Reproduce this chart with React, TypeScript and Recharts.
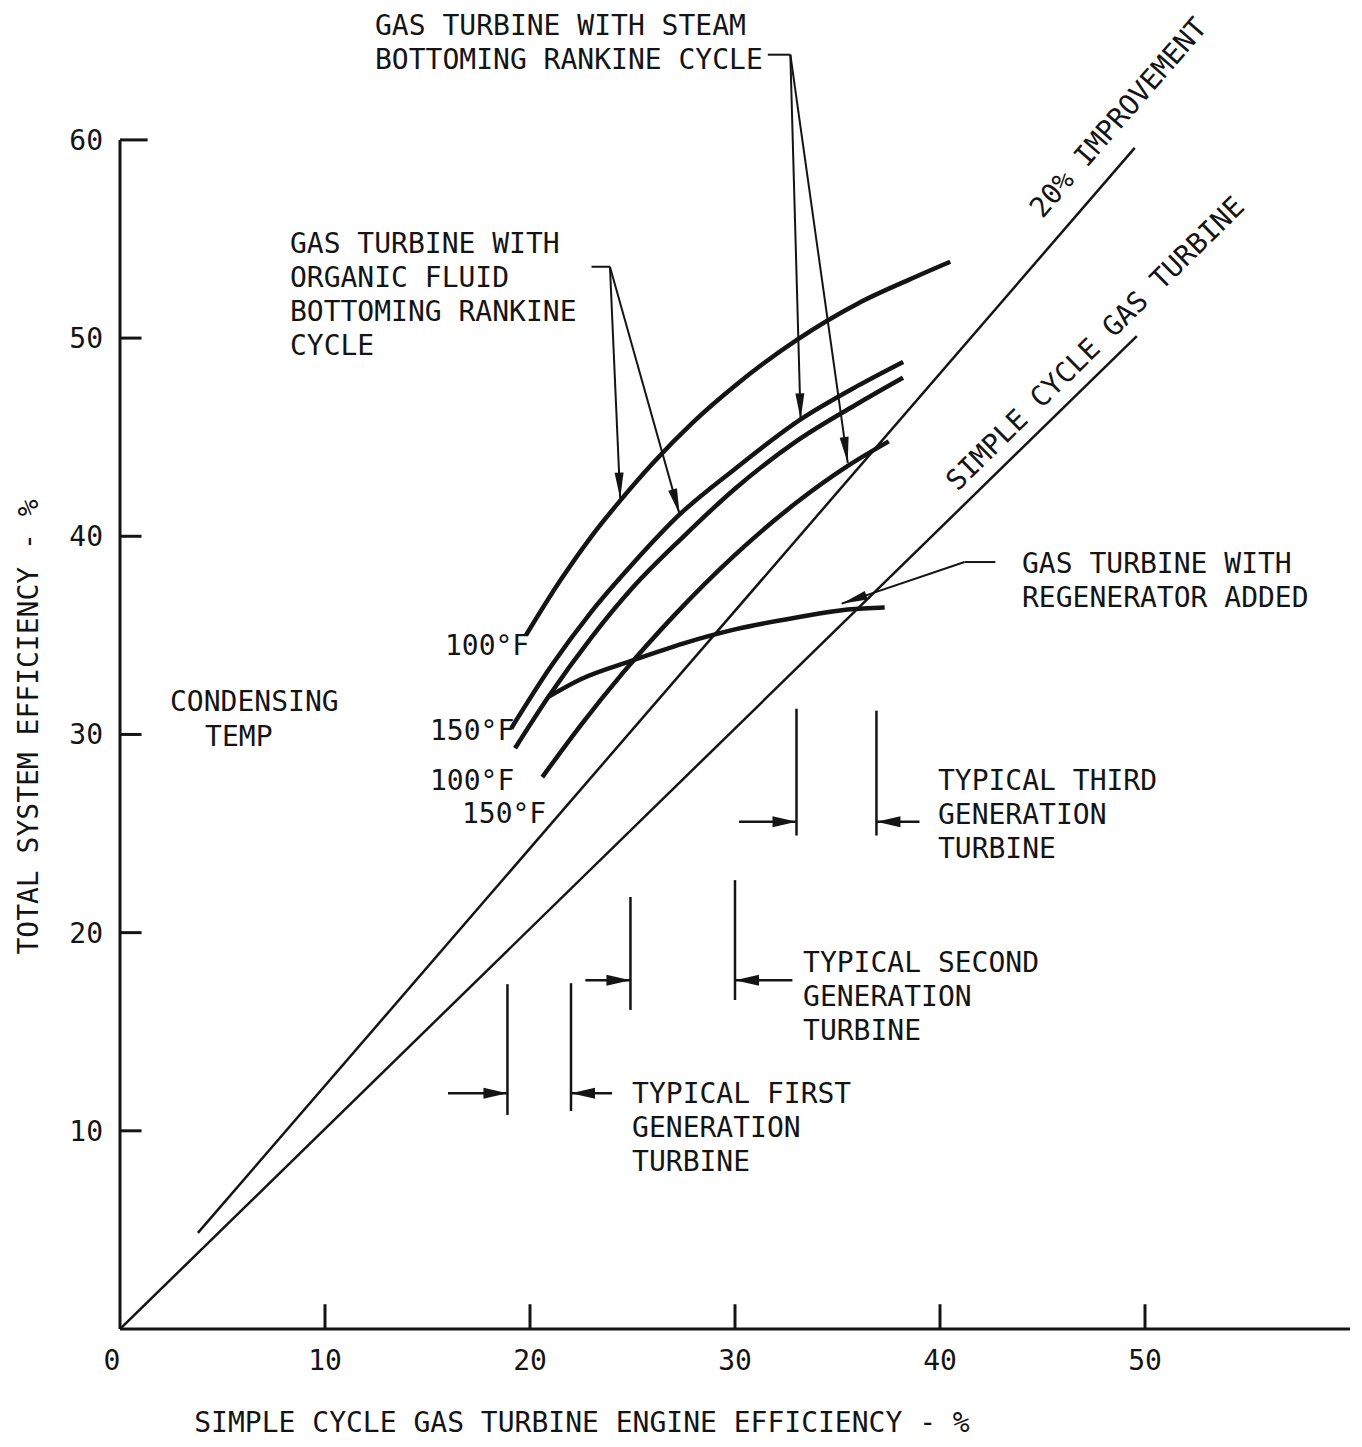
import React from 'react';
import { ComposedChart, Line, XAxis, YAxis, ReferenceLine, ReferenceDot, Label } from 'recharts';

const FONT = '"DejaVu Sans Mono", "Liberation Mono", monospace';
const INK = '#141414';

const xTicks = [0, 10, 20, 30, 40, 50];
const yTicks = [10, 20, 30, 40, 50, 60];

const simpleCycle = [{ x: 0, y: 0 }, { x: 49.6, y: 50.1 }];
const improvement20 = [{ x: 3.8, y: 4.85 }, { x: 49.5, y: 59.6 }];

const steam100 = [
  { x: 19.8, y: 35.0 }, { x: 21.5, y: 37.8 }, { x: 23, y: 40.0 }, { x: 24.4, y: 41.8 },
  { x: 26, y: 43.7 }, { x: 28, y: 45.8 }, { x: 30, y: 47.6 }, { x: 33, y: 49.9 },
  { x: 36, y: 51.75 }, { x: 38.5, y: 52.95 }, { x: 40.5, y: 53.85 },
];
const steam150 = [
  { x: 19.08, y: 30.3 }, { x: 21, y: 33.4 }, { x: 23, y: 36.2 }, { x: 25, y: 38.6 },
  { x: 27.3, y: 41.1 }, { x: 30, y: 43.4 }, { x: 33.2, y: 45.9 }, { x: 36, y: 47.6 },
  { x: 38.2, y: 48.8 },
];
const organic100 = [
  { x: 19.27, y: 29.3 }, { x: 20.9, y: 31.9 }, { x: 23, y: 34.9 }, { x: 25, y: 37.4 },
  { x: 27.5, y: 40.0 }, { x: 30, y: 42.4 }, { x: 33, y: 44.8 }, { x: 36, y: 46.7 },
  { x: 38.2, y: 48.0 },
];
const organic150 = [
  { x: 20.6, y: 27.85 }, { x: 22.5, y: 30.5 }, { x: 24.5, y: 33.07 }, { x: 27, y: 35.97 },
  { x: 30, y: 39.06 }, { x: 33, y: 41.7 }, { x: 35.5, y: 43.55 }, { x: 37.5, y: 44.79 },
];
const regenerator = [
  { x: 20.9, y: 31.9 }, { x: 22.5, y: 32.8 }, { x: 24.9, y: 33.7 }, { x: 27.5, y: 34.6 },
  { x: 30, y: 35.3 }, { x: 33, y: 35.9 }, { x: 35.5, y: 36.3 }, { x: 37.3, y: 36.4 },
];

// generation marker bars: [x, yLow, yHigh]
const generationBars = [
  [18.9, 10.8, 17.4], [22.0, 11.0, 17.45],
  [24.9, 16.1, 21.8], [30.0, 16.6, 22.65],
  [33.0, 24.9, 31.3], [36.9, 24.9, 31.2],
];
// horizontal pointer arrows: [xFrom, xTo, y]
const generationArrows = [
  [16.0, 18.9, 11.9], [24.0, 22.0, 11.9],
  [22.7, 24.9, 17.6], [32.8, 30.0, 17.6],
  [30.2, 33.0, 25.6], [39.0, 36.9, 25.6],
];

// leader lines (plain) and leader arrows
const leaderStubs = [
  [[23.0, 53.6], [23.9, 53.6]],
  [[31.6, 64.3], [32.7, 64.3]],
  [[42.7, 38.7], [41.2, 38.7]],
];
const leaderArrows = [
  [[23.9, 53.6], [24.4, 41.9]],
  [[23.9, 53.6], [27.3, 41.1]],
  [[32.7, 64.3], [33.2, 45.9]],
  [[32.7, 64.3], [35.5, 43.7]],
  [[41.2, 38.7], [35.2, 36.6]],
];

const annotations = [
  { x: 12.44, y: 65.29, angle: 0, lines: ['GAS TURBINE WITH STEAM', 'BOTTOMING RANKINE CYCLE'] },
  { x: 8.29, y: 54.29, angle: 0, lines: ['GAS TURBINE WITH', 'ORGANIC FLUID', 'BOTTOMING RANKINE', 'CYCLE'] },
  { x: 44.0, y: 38.14, angle: 0, lines: ['GAS TURBINE WITH', 'REGENERATOR ADDED'] },
  { x: 2.44, y: 31.18, angle: 0, lines: ['CONDENSING'] },
  { x: 4.15, y: 29.41, angle: 0, lines: ['TEMP'] },
  { x: 15.85, y: 34.0, angle: 0, lines: ['100°F'] },
  { x: 15.12, y: 29.72, angle: 0, lines: ['150°F'] },
  { x: 15.12, y: 27.19, angle: 0, lines: ['100°F'] },
  { x: 16.68, y: 25.53, angle: 0, lines: ['150°F'] },
  { x: 39.9, y: 27.19, angle: 0, lines: ['TYPICAL THIRD', 'GENERATION', 'TURBINE'] },
  { x: 33.32, y: 18.01, angle: 0, lines: ['TYPICAL SECOND', 'GENERATION', 'TURBINE'] },
  { x: 24.98, y: 11.4, angle: 0, lines: ['TYPICAL FIRST', 'GENERATION', 'TURBINE'] },
  { x: 45.0, y: 56.0, angle: -49, lines: ['20% IMPROVEMENT'] },
  { x: 40.85, y: 42.23, angle: -44.5, lines: ['SIMPLE CYCLE GAS TURBINE'] },
];

const arrowShape = (headLen: number, headW: number, width: number) => (props: any) => {
  const { x1, y1, x2, y2 } = props;
  const dx = x2 - x1;
  const dy = y2 - y1;
  const len = Math.hypot(dx, dy) || 1;
  const ux = dx / len;
  const uy = dy / len;
  const bx = x2 - ux * headLen;
  const by = y2 - uy * headLen;
  const px = -uy * headW;
  const py = ux * headW;
  return (
    <g>
      <line x1={x1} y1={y1} x2={x2} y2={y2} stroke={INK} strokeWidth={width} />
      <polygon points={`${x2},${y2} ${bx + px},${by + py} ${bx - px},${by - py}`} fill={INK} />
    </g>
  );
};

const textShape = (lines: string[], angle: number) => (p: any) => (
  <text
    x={p.cx}
    y={p.cy}
    fontFamily={FONT}
    fontSize={28}
    fill={INK}
    transform={angle ? `rotate(${angle} ${p.cx} ${p.cy})` : undefined}
  >
    {lines.map((l, i) => (
      <tspan key={i} x={p.cx} dy={i === 0 ? 0 : 34}>{l}</tspan>
    ))}
  </text>
);

const XTick = (props: any) => {
  const { x, y, payload } = props;
  const shift = payload.value === 0 ? -8 : 0;
  return (
    <text x={x + shift} y={y} dy="0.71em" textAnchor="middle" fontFamily={FONT} fontSize={28} fill={INK}>
      {payload.value}
    </text>
  );
};

const XTitle = (props: any) => {
  const vb = props.viewBox || { x: 112, y: 1321 };
  return (
    <text x={vb.x + 462} y={vb.y + 103} textAnchor="middle" fontFamily={FONT} fontSize={28} fill={INK}>
      SIMPLE CYCLE GAS TURBINE ENGINE EFFICIENCY - %
    </text>
  );
};

const YTitle = (props: any) => {
  const vb = props.viewBox || { x: 0, y: 13 };
  const cx = 30;
  const cy = vb.y + 706;
  return (
    <text x={cx} y={cy} textAnchor="middle" fontFamily={FONT} fontSize={28} fill={INK} transform={`rotate(-90 ${cx} ${cy})`}>
      TOTAL SYSTEM EFFICIENCY - %
    </text>
  );
};

const curveStyle = { stroke: INK, strokeWidth: 4.5, dot: false as const, isAnimationActive: false };

export default function App() {
  return (
    <ComposedChart width={1346} height={1431} margin={{ top: 13, right: 4, bottom: 10, left: 0 }} style={{ background: '#fff' }}>
      <XAxis
        type="number"
        dataKey="x"
        domain={[0, 60]}
        ticks={xTicks}
        interval={0}
        allowDataOverflow
        tickLine={false}
        tickSize={0}
        tickMargin={21}
        axisLine={{ stroke: INK, strokeWidth: 3 }}
        tick={XTick}
        height={100}
      >
        <Label content={XTitle} />
      </XAxis>
      <YAxis
        type="number"
        domain={[0, 66]}
        ticks={yTicks}
        interval={0}
        allowDataOverflow
        axisLine={false}
        tickLine={false}
        tickSize={0}
        tickMargin={17}
        width={112}
        tick={{ fontSize: 28, fontFamily: FONT, fill: INK }}
      >
        <Label content={YTitle} />
      </YAxis>

      <ReferenceLine segment={[{ x: 0, y: 0 }, { x: 0, y: 60 }]} stroke={INK} strokeWidth={3} />
      {xTicks.filter((t) => t > 0).map((t) => (
        <ReferenceLine key={'xt' + t} segment={[{ x: t, y: 0 }, { x: t, y: 1.25 }]} stroke={INK} strokeWidth={3} />
      ))}
      {yTicks.map((t) => (
        <ReferenceLine key={'yt' + t} segment={[{ x: 0, y: t }, { x: t === 60 ? 1.35 : 1.05, y: t }]} stroke={INK} strokeWidth={3} />
      ))}

      <Line data={simpleCycle} dataKey="y" type="linear" stroke={INK} strokeWidth={2.5} dot={false} isAnimationActive={false} />
      <Line data={improvement20} dataKey="y" type="linear" stroke={INK} strokeWidth={2.5} dot={false} isAnimationActive={false} />
      <Line data={steam100} dataKey="y" type="monotone" {...curveStyle} />
      <Line data={steam150} dataKey="y" type="monotone" {...curveStyle} />
      <Line data={organic100} dataKey="y" type="monotone" {...curveStyle} />
      <Line data={organic150} dataKey="y" type="monotone" {...curveStyle} />
      <Line data={regenerator} dataKey="y" type="monotone" {...curveStyle} />

      {generationBars.map(([x, lo, hi], i) => (
        <ReferenceLine key={'gb' + i} segment={[{ x, y: lo }, { x, y: hi }]} stroke={INK} strokeWidth={2.5} />
      ))}
      {generationArrows.map(([from, to, y], i) => (
        <ReferenceLine key={'ga' + i} segment={[{ x: from, y }, { x: to, y }]} shape={arrowShape(24, 5.5, 2.5)} />
      ))}
      {leaderStubs.map(([a, b], i) => (
        <ReferenceLine key={'ls' + i} segment={[{ x: a[0], y: a[1] }, { x: b[0], y: b[1] }]} stroke={INK} strokeWidth={2} />
      ))}
      {leaderArrows.map(([a, b], i) => (
        <ReferenceLine key={'la' + i} segment={[{ x: a[0], y: a[1] }, { x: b[0], y: b[1] }]} shape={arrowShape(26, 4.5, 2)} />
      ))}

      {annotations.map((n, i) => (
        <ReferenceDot key={'an' + i} x={n.x} y={n.y} r={0} shape={textShape(n.lines, n.angle)} />
      ))}
    </ComposedChart>
  );
}
